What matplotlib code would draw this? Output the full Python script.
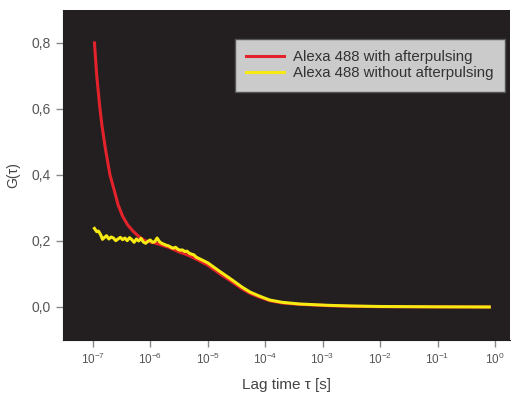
import numpy as np
import matplotlib
matplotlib.use("Agg")
import matplotlib.pyplot as plt
from matplotlib.ticker import FixedLocator, FuncFormatter

plt.rcParams['font.family'] = ['Liberation Sans', 'DejaVu Sans']
plt.rcParams['mathtext.fontset'] = 'custom'
plt.rcParams['mathtext.rm'] = 'Liberation Sans'

# log10 of lag time, G values
red_logtau = [-6.97, -6.93, -6.88, -6.84, -6.78, -6.70, -6.62, -6.56, -6.48, -6.39,
              -6.30, -6.22, -6.15, -6.08, -6.00, -5.92, -5.84, -5.76, -5.68, -5.60,
              -5.50, -5.40, -5.30, -5.20, -5.00, -4.80, -4.60, -4.40, -4.26, -4.10,
              -3.92, -3.70, -3.40, -2.90, -2.50, -2.00, -1.00, -0.10]
red_g = [0.800, 0.700, 0.610, 0.550, 0.480, 0.400, 0.350, 0.310, 0.275, 0.248,
         0.230, 0.217, 0.207, 0.200, 0.197, 0.194, 0.190, 0.185, 0.181, 0.175,
         0.167, 0.161, 0.154, 0.145, 0.127, 0.102, 0.079, 0.055, 0.041, 0.030,
         0.019, 0.012, 0.008, 0.004, 0.002, 0.001, 0.0003, 0.0]

yellow_logtau = [-6.97, -6.93, -6.90, -6.86, -6.83, -6.80, -6.76, -6.72, -6.68, -6.64,
                 -6.60, -6.56, -6.52, -6.48, -6.44, -6.40, -6.36, -6.32, -6.28, -6.24,
                 -6.20, -6.16, -6.12, -6.08, -6.04, -6.00, -5.96, -5.92, -5.88, -5.84,
                 -5.80, -5.76, -5.72, -5.68, -5.64, -5.60, -5.56, -5.52, -5.48, -5.44,
                 -5.40, -5.36, -5.32, -5.28, -5.24, -5.20, -5.00, -4.80, -4.60, -4.40,
                 -4.26, -4.10, -3.92, -3.70, -3.40, -2.90, -2.50, -2.00, -1.00, -0.10]
yellow_g = [0.238, 0.228, 0.230, 0.218, 0.205, 0.210, 0.216, 0.206, 0.212, 0.209,
            0.201, 0.206, 0.211, 0.204, 0.209, 0.201, 0.210, 0.204, 0.196, 0.206,
            0.200, 0.208, 0.197, 0.193, 0.199, 0.203, 0.196, 0.198, 0.209, 0.198,
            0.193, 0.190, 0.187, 0.185, 0.181, 0.178, 0.181, 0.175, 0.172, 0.173,
            0.168, 0.169, 0.163, 0.160, 0.158, 0.151, 0.134, 0.109, 0.085, 0.060,
            0.045, 0.033, 0.021, 0.014, 0.009, 0.005, 0.003, 0.0015, 0.0005, 0.0]

series_labels = ["Alexa 488 with afterpulsing", "Alexa 488 without afterpulsing"]
y_ticks = [0.0, 0.2, 0.4, 0.6, 0.8]
x_ticks = [1e-7, 1e-6, 1e-5, 1e-4, 1e-3, 1e-2, 1e-1, 1e0]

fig = plt.figure(figsize=(5.11, 3.97), dpi=100)
ax = fig.add_axes([0.123, 0.1436, 0.875, 0.8314])
ax.set_facecolor('#231f20')

ax.plot(10 ** np.array(red_logtau), red_g, color='#e3222b', lw=2.2, label=series_labels[0])
ax.plot(10 ** np.array(yellow_logtau), yellow_g, color='#f7ea12', lw=2.2, label=series_labels[1])

ax.set_xscale('log')
ax.set_xlim(10 ** -7.52, 10 ** 0.26)
ax.set_ylim(-0.1, 0.9)
ax.xaxis.set_major_locator(FixedLocator(x_ticks))
ax.xaxis.set_minor_locator(FixedLocator([]))
ax.xaxis.set_major_formatter(FuncFormatter(lambda v, p: r'$10^{%d}$' % round(np.log10(v))))
ax.yaxis.set_major_locator(FixedLocator(y_ticks))
ax.yaxis.set_major_formatter(FuncFormatter(lambda v, p: f'{v:.1f}'.replace('.', ',')))

for s in ['top', 'right']:
    ax.spines[s].set_visible(False)
for s in ['left', 'bottom']:
    ax.spines[s].set_color('#231f20')
ax.tick_params(colors='#888888', labelcolor='#555555', length=5, width=1)
ax.tick_params(axis='y', labelsize=10)
ax.tick_params(axis='x', labelsize=8.5)

ax.set_xlabel('Lag time τ [s]', fontsize=11, color='#444444', labelpad=8)
ax.set_ylabel('G(τ)', fontsize=10, color='#444444', labelpad=8)

leg = ax.legend(loc='upper right', bbox_to_anchor=(1.005, 0.935), fontsize=10.8,
                fancybox=False, framealpha=1, facecolor='#cbcbcb', edgecolor='#555555',
                handlelength=2.5, borderpad=0.75, labelspacing=0.15, handletextpad=0.6)
for t in leg.get_texts():
    t.set_color('#333333')

plt.savefig('out.png', dpi=100)
